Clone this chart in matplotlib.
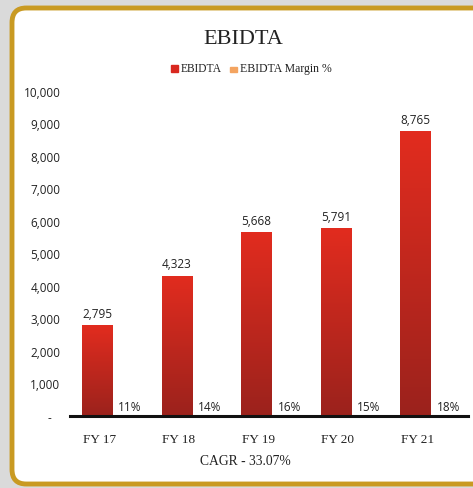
import numpy as np
import matplotlib.pyplot as plt
from matplotlib.patches import FancyBboxPatch, Rectangle
from matplotlib.colors import LinearSegmentedColormap

years = ["FY 17", "FY 18", "FY 19", "FY 20", "FY 21"]
ebidta = [2795, 4323, 5668, 5791, 8765]
margin = [11, 14, 16, 15, 18]
yticks = [0, 1000, 2000, 3000, 4000, 5000, 6000, 7000, 8000, 9000, 10000]

serif = ["Liberation Serif", "DejaVu Serif"]
sans = ["Open Sans", "DejaVu Sans"]

fig = plt.figure(figsize=(4.73, 4.89), dpi=100)
fig.patch.set_facecolor("#dadada")

# gold frame (runs off the right edge like the original)
frame = FancyBboxPatch((12 / 473, 4 / 489), 475 / 473, 476 / 489,
                       boxstyle="round,pad=0,rounding_size=0.03",
                       transform=fig.transFigure, facecolor="white",
                       edgecolor="#c99a22", linewidth=3.5, zorder=-5)
fig.patches.append(frame)

ax = fig.add_axes([70 / 473, (489 - 417) / 489, 398 / 473, 325 / 489])
ax.set_zorder(3)
ax.set_facecolor("none")

x = np.arange(len(years))
w = 0.38
cmap = LinearSegmentedColormap.from_list("red", ["#9b221c", "#e22c1f"])
grad = np.linspace(0, 1, 256).reshape(-1, 1)

for xi, v in zip(x, ebidta):
    bar = ax.bar(xi, v, width=w, color="#d9281f", zorder=2)[0]
    im = ax.imshow(grad, cmap=cmap, aspect="auto", origin="lower",
                   extent=[xi - w / 2, xi + w / 2, 0, v], zorder=3)
    im.set_clip_path(bar)
    ax.text(xi, v + 160, f"{v:,}", ha="center", va="bottom",
            fontsize=8.5, family=sans, color="#222222")

for xi, m in zip(x, margin):
    ax.text(xi + 0.41, 80, f"{m}%", ha="center", va="bottom",
            fontsize=8.5, family=sans, color="#222222")

ax.set_xlim(-0.346, 4.66)
ax.set_ylim(0, 10000)
ax.set_xticks(x + 0.02)
ax.set_xticklabels(years, family=serif, fontsize=9.5, color="#222222")
ax.set_yticks(yticks)
ax.set_yticklabels(["-   "] + [f"{t:,}" for t in yticks[1:]],
                   family=sans, fontsize=8.5, color="#222222")
ax.tick_params(length=0, axis="y", pad=7)
ax.tick_params(length=0, axis="x", pad=12)
for s in ["top", "right", "left"]:
    ax.spines[s].set_visible(False)
ax.spines["bottom"].set_linewidth(2.2)
ax.spines["bottom"].set_color("#111111")
ax.spines["bottom"].set_zorder(5)

fig.text(243 / 473, 1 - 40 / 489, "EBIDTA", ha="center", va="center",
         fontsize=16, family=serif, color="#222222")

# legend
ly = 1 - 69 / 489
fig.patches.append(Rectangle((171 / 473, ly - 3.5 / 489), 7 / 473, 7 / 489,
                             transform=fig.transFigure, color="#d9281f"))
fig.text(181 / 473, ly, "EBIDTA", ha="left", va="center",
         fontsize=8.3, family=serif, color="#222222")
fig.patches.append(Rectangle((230 / 473, ly - 3.5 / 489), 7 / 473, 5 / 489,
                             transform=fig.transFigure, color="#f4a460"))
fig.text(240 / 473, ly, "EBIDTA Margin %", ha="left", va="center",
         fontsize=8.5, family=serif, color="#222222")

fig.text(245 / 473, 1 - 462 / 489, "CAGR - 33.07%", ha="center", va="center",
         fontsize=9.8, family=serif, color="#222222")

fig.savefig("out.png", dpi=100, facecolor=fig.get_facecolor())
